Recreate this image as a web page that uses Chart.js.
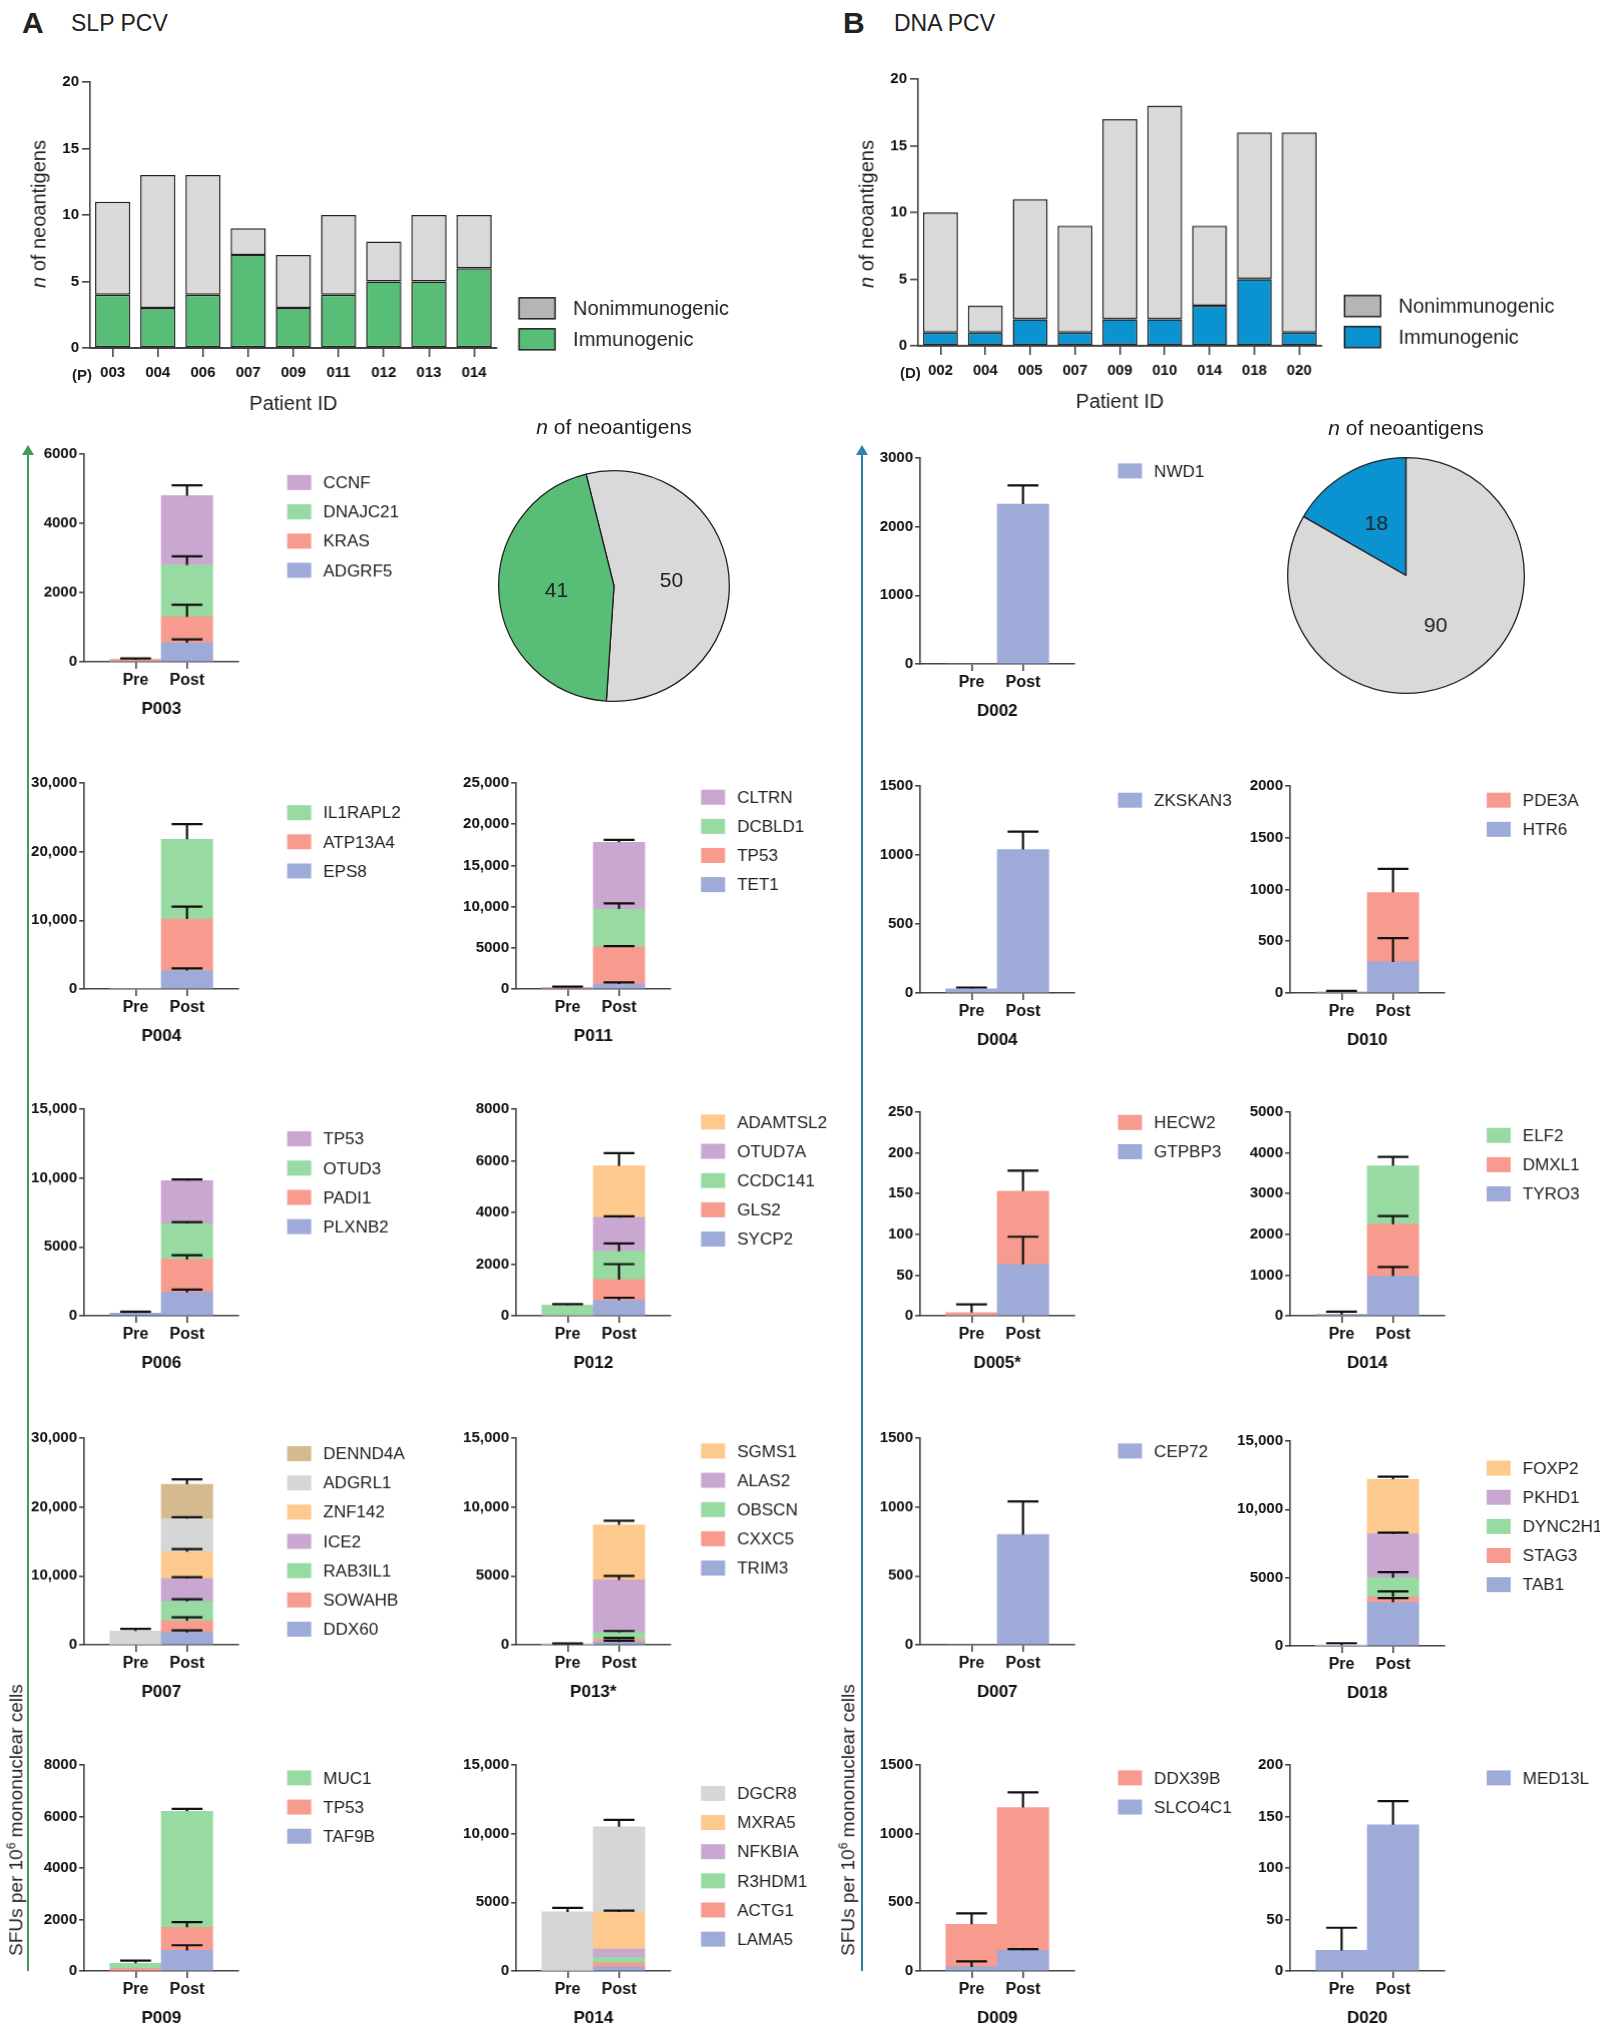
<!DOCTYPE html>
<html><head><meta charset="utf-8">
<script src="https://cdn.jsdelivr.net/npm/chart.js@4"></script>
<style>
body{margin:0;width:1600px;height:2023px;background:#fff;position:relative;overflow:hidden;font-family:"Liberation Sans",Arial,sans-serif;color:#222}
canvas{position:absolute}
.t{position:absolute;white-space:nowrap}
.rot{transform:translate(-50%,-50%) rotate(-90deg)}
.ctr{transform:translate(-50%,-50%)}
</style></head><body>
<script>
// ---- data ----
const SLP_IDS = ['003','004','006','007','009','011','012','013','014'];
const SLP_IMMUNO = [4,3,4,7,3,4,5,5,6];
const SLP_NONIMMUNO = [7,10,9,2,4,6,3,5,4];
const DNA_IDS = ['002','004','005','007','009','010','014','018','020'];
const DNA_IMMUNO = [1,1,2,1,2,2,3,5,1];
const DNA_NONIMMUNO = [9,2,9,8,15,16,6,11,15];
const SLP_PIE = [50,41];
const DNA_PIE = [18,90];
const PHASES = ['', 'Pre', 'Post', ''];

// gene lists bottom -> top; values and SD for Pre and Post
const P003_GENES = ['ADGRF5','KRAS','DNAJC21','CCNF'];
const P003_PRE = [0,60,0,0], P003_PRE_SD = [0,40,0,0];
const P003_POST = [550,750,1500,2000], P003_POST_SD = [100,350,250,300];
const P004_GENES = ['EPS8','ATP13A4','IL1RAPL2'];
const P004_PRE = [0,0,0], P004_PRE_SD = [0,0,0];
const P004_POST = [2700,7500,11600], P004_POST_SD = [300,1800,2200];
const P011_GENES = ['TET1','TP53','DCBLD1','CLTRN'];
const P011_PRE = [0,150,0,0], P011_PRE_SD = [0,150,0,0];
const P011_POST = [600,4500,4600,8100], P011_POST_SD = [200,100,700,300];
const P006_GENES = ['PLXNB2','PADI1','OTUD3','TP53'];
const P006_PRE = [200,0,0,0], P006_PRE_SD = [100,0,0,0];
const P006_POST = [1700,2400,2600,3100], P006_POST_SD = [200,300,100,100];
const P012_GENES = ['SYCP2','GLS2','CCDC141','OTUD7A','ADAMTSL2'];
const P012_PRE = [0,0,400,0,0], P012_PRE_SD = [0,0,50,0,0];
const P012_POST = [600,800,1100,1300,2000], P012_POST_SD = [100,600,300,50,500];
const P007_GENES = ['DDX60','SOWAHB','RAB3IL1','ICE2','ZNF142','ADGRL1','DENND4A'];
const P007_PRE = [0,0,0,0,0,2000,0], P007_PRE_SD = [0,0,0,0,0,300,0];
const P007_POST = [1800,1700,2800,3300,3900,4800,5000], P007_POST_SD = [300,500,300,200,400,200,700];
const P013_GENES = ['TRIM3','CXXC5','OBSCN','ALAS2','SGMS1'];
const P013_PRE = [50,0,0,0,0], P013_PRE_SD = [50,0,0,0,0];
const P013_POST = [200,200,500,3800,4000], P013_POST_SD = [100,100,100,300,300];
const P009_GENES = ['TAF9B','TP53','MUC1'];
const P009_PRE = [0,100,200], P009_PRE_SD = [0,0,100];
const P009_POST = [800,900,4500], P009_POST_SD = [200,200,100];
const P014_GENES = ['LAMA5','ACTG1','R3HDM1','NFKBIA','MXRA5','DGCR8'];
const P014_PRE = [0,0,0,0,0,4300], P014_PRE_SD = [0,0,0,0,0,300];
const P014_POST = [300,300,400,600,2700,6200], P014_POST_SD = [0,0,0,0,100,500];

const D002_GENES = ['NWD1'];
const D002_PRE = [0], D002_PRE_SD = [0];
const D002_POST = [2330], D002_POST_SD = [270];
const D004_GENES = ['ZKSKAN3'];
const D004_PRE = [30], D004_PRE_SD = [10];
const D004_POST = [1040], D004_POST_SD = [130];
const D010_GENES = ['HTR6','PDE3A'];
const D010_PRE = [10,0], D010_PRE_SD = [10,0];
const D010_POST = [300,670], D010_POST_SD = [230,230];
const D005_GENES = ['GTPBP3','HECW2'];
const D005_PRE = [0,4], D005_PRE_SD = [0,10];
const D005_POST = [63,90], D005_POST_SD = [34,25];
const D014_GENES = ['TYRO3','DMXL1','ELF2'];
const D014_PRE = [30,0,0], D014_PRE_SD = [70,0,0];
const D014_POST = [980,1270,1430], D014_POST_SD = [220,200,220];
const D007_GENES = ['CEP72'];
const D007_PRE = [0], D007_PRE_SD = [0];
const D007_POST = [800], D007_POST_SD = [240];
const D018_GENES = ['TAB1','STAG3','DYNC2H1','PKHD1','FOXP2'];
const D018_PRE = [50,0,0,0,0], D018_PRE_SD = [150,0,0,0,0];
const D018_POST = [3200,400,1400,3200,4000], D018_POST_SD = [300,400,400,100,200];
const D009_GENES = ['SLCO4C1','DDX39B'];
const D009_PRE = [30,310], D009_PRE_SD = [40,80];
const D009_POST = [150,1040], D009_POST_SD = [10,110];
const D020_GENES = ['MED13L'];
const D020_PRE = [20], D020_PRE_SD = [22];
const D020_POST = [142], D020_POST_SD = [23];

// ---- style ----
const K = 1.29;
const FONT = '"Liberation Sans", Arial, sans-serif';
const PALETTE = ['#9eaad8','#f79b8f','#97dba2','#c9a7d1','#fdc98c','#d6d6d6','#d5b98f'];
const GREEN = '#58bd76', BLUE = '#0a93d0', GREY = '#d9d9d9';
const AXIS = '#444';

function addText(html, x, y, size, cls, extra) {
  const d = document.createElement('div');
  d.className = 't ' + (cls || '');
  d.style.left = x + 'px'; d.style.top = y + 'px';
  d.style.fontSize = size + 'px';
  if (extra) Object.assign(d.style, extra);
  d.innerHTML = html;
  document.body.appendChild(d);
}
function addCanvas(left, top, w, h) {
  const c = document.createElement('canvas');
  c.style.left = left + 'px'; c.style.top = top + 'px';
  c.style.width = w + 'px'; c.style.height = h + 'px';
  c.width = w; c.height = h;
  document.body.appendChild(c);
  return c;
}

const errorBars = {
  id: 'errorBars',
  afterDatasetsDraw(chart) {
    const ctx = chart.ctx, ys = chart.scales.y;
    chart.data.datasets.forEach((ds, i) => {
      if (!ds.sd) return;
      chart.getDatasetMeta(i).data.forEach((el, j) => {
        const sd = ds.sd[j];
        if (!sd || !ds.data[j]) return;
        const top = ys.getValueForPixel(el.y);
        const tip = ys.getPixelForValue(top + sd);
        const half = el.width * 0.3;
        ctx.save();
        ctx.strokeStyle = '#111'; ctx.lineWidth = 2.2;
        ctx.beginPath();
        ctx.moveTo(el.x, el.y); ctx.lineTo(el.x, tip);
        ctx.moveTo(el.x - half, tip); ctx.lineTo(el.x + half, tip);
        ctx.stroke();
        ctx.restore();
      });
    });
  }
};

const sideLegend = {
  id: 'sideLegend',
  afterDraw(chart, args, opts) {
    if (!opts.items) return;
    const ctx = chart.ctx;
    ctx.save();
    ctx.font = opts.size + 'px ' + FONT;
    ctx.textBaseline = 'middle';
    opts.items.forEach((it, k) => {
      const y = opts.y + k * opts.step;
      ctx.fillStyle = it.color;
      ctx.fillRect(opts.x, y - opts.bh / 2, opts.bw, opts.bh);
      if (opts.border) { ctx.strokeStyle = '#222'; ctx.lineWidth = 1.5; ctx.strokeRect(opts.x, y - opts.bh / 2, opts.bw, opts.bh); }
      ctx.fillStyle = '#222';
      ctx.fillText(it.label, opts.x + opts.bw + opts.gap, y + 1);
    });
    ctx.restore();
  }
};

function fmt(v) { return v >= 10000 ? v.toLocaleString('en-US') : String(v); }

// ---- small Pre/Post stacked charts ----
function smallChart(s) {
  const yW = 66, padT = 12, xH = 62, legW = 240;
  const ax = s.ax * K, top = s.top * K, zero = s.zero * K;
  const plotW = 120 * K, plotH = zero - top;
  const left = ax - yW, ctop = top - padT;
  const W = yW + plotW + legW, H = padT + plotH + xH;
  const c = addCanvas(left, ctop, W, H);
  const datasets = s.genes.map((g, i) => ({
    label: g,
    data: [null, s.pre[i], s.post[i], null],
    sd: [0, s.preSd[i], s.postSd[i], 0],
    backgroundColor: PALETTE[i],
    barPercentage: 1, categoryPercentage: 1, borderWidth: 0
  }));
  const items = s.genes.map((g, i) => ({label: g, color: PALETTE[i]})).reverse();
  new Chart(c, {
    type: 'bar',
    data: {labels: PHASES, datasets},
    plugins: [errorBars, sideLegend],
    options: {
      animation: false, responsive: false,
      layout: {padding: {top: padT, right: legW, left: 0, bottom: 0}},
      plugins: {
        legend: {display: false}, tooltip: {enabled: false},
        sideLegend: {items, x: yW + s.legDx * K, y: padT + s.legDy * K, step: 22.6 * K,
                     bw: 24, bh: 15, gap: 12, size: 17}
      },
      scales: {
        x: {
          stacked: true, offset: false,
          afterFit: sc => { sc.height = xH; },
          ticks: {color: '#111', padding: 2, autoSkip: false, maxRotation: 0,
                  font: {family: FONT, size: 16, weight: 'bold'}},
          grid: {drawOnChartArea: false, offset: false, tickLength: 7, lineWidth: 1.6,
                 color: c => (c.tick && c.tick.label) ? AXIS : 'rgba(0,0,0,0)'},
          border: {color: AXIS, width: 1.6},
          title: {display: true, text: s.title, color: '#111', padding: {top: 2},
                  font: {family: FONT, size: 17, weight: 'bold'}}
        },
        y: {
          stacked: true, min: 0, max: s.max,
          afterFit: sc => { sc.width = yW; },
          ticks: {stepSize: s.step, callback: fmt, color: '#111', padding: 2,
                  font: {family: FONT, size: 15, weight: 'bold'}},
          grid: {drawOnChartArea: false, tickLength: 5, color: AXIS, lineWidth: 1.6},
          border: {color: AXIS, width: 1.6}
        }
      }
    }
  });
}

const SMALL = [
  {title:'P003', genes:P003_GENES, pre:P003_PRE, preSd:P003_PRE_SD, post:P003_POST, postSd:P003_POST_SD, ax:65, top:352, zero:513, max:6000, step:2000, legDx:157, legDy:22},
  {title:'P004', genes:P004_GENES, pre:P004_PRE, preSd:P004_PRE_SD, post:P004_POST, postSd:P004_POST_SD, ax:65, top:607, zero:767, max:30000, step:10000, legDx:157, legDy:23},
  {title:'P011', genes:P011_GENES, pre:P011_PRE, preSd:P011_PRE_SD, post:P011_POST, postSd:P011_POST_SD, ax:400, top:607, zero:767, max:25000, step:5000, legDx:143, legDy:11},
  {title:'P006', genes:P006_GENES, pre:P006_PRE, preSd:P006_PRE_SD, post:P006_POST, postSd:P006_POST_SD, ax:65, top:860, zero:1020, max:15000, step:5000, legDx:157, legDy:23},
  {title:'P012', genes:P012_GENES, pre:P012_PRE, preSd:P012_PRE_SD, post:P012_POST, postSd:P012_POST_SD, ax:400, top:860, zero:1020, max:8000, step:2000, legDx:143, legDy:10},
  {title:'P007', genes:P007_GENES, pre:P007_PRE, preSd:P007_PRE_SD, post:P007_POST, postSd:P007_POST_SD, ax:65, top:1115, zero:1275, max:30000, step:10000, legDx:157, legDy:12},
  {title:'P013*', genes:P013_GENES, pre:P013_PRE, preSd:P013_PRE_SD, post:P013_POST, postSd:P013_POST_SD, ax:400, top:1115, zero:1275, max:15000, step:5000, legDx:143, legDy:10},
  {title:'P009', genes:P009_GENES, pre:P009_PRE, preSd:P009_PRE_SD, post:P009_POST, postSd:P009_POST_SD, ax:65, top:1368, zero:1528, max:8000, step:2000, legDx:157, legDy:10},
  {title:'P014', genes:P014_GENES, pre:P014_PRE, preSd:P014_PRE_SD, post:P014_POST, postSd:P014_POST_SD, ax:400, top:1368, zero:1528, max:15000, step:5000, legDx:143, legDy:22},
  {title:'D002', genes:D002_GENES, pre:D002_PRE, preSd:D002_PRE_SD, post:D002_POST, postSd:D002_POST_SD, ax:713, top:355, zero:515, max:3000, step:1000, legDx:153, legDy:10},
  {title:'D004', genes:D004_GENES, pre:D004_PRE, preSd:D004_PRE_SD, post:D004_POST, postSd:D004_POST_SD, ax:713, top:609, zero:770, max:1500, step:500, legDx:153, legDy:11},
  {title:'D010', genes:D010_GENES, pre:D010_PRE, preSd:D010_PRE_SD, post:D010_POST, postSd:D010_POST_SD, ax:1000, top:609, zero:770, max:2000, step:500, legDx:152, legDy:11},
  {title:'D005*', genes:D005_GENES, pre:D005_PRE, preSd:D005_PRE_SD, post:D005_POST, postSd:D005_POST_SD, ax:713, top:862, zero:1020, max:250, step:50, legDx:153, legDy:8},
  {title:'D014', genes:D014_GENES, pre:D014_PRE, preSd:D014_PRE_SD, post:D014_POST, postSd:D014_POST_SD, ax:1000, top:862, zero:1020, max:5000, step:1000, legDx:152, legDy:18},
  {title:'D007', genes:D007_GENES, pre:D007_PRE, preSd:D007_PRE_SD, post:D007_POST, postSd:D007_POST_SD, ax:713, top:1115, zero:1275, max:1500, step:500, legDx:153, legDy:10},
  {title:'D018', genes:D018_GENES, pre:D018_PRE, preSd:D018_PRE_SD, post:D018_POST, postSd:D018_POST_SD, ax:1000, top:1117, zero:1276, max:15000, step:5000, legDx:152, legDy:21},
  {title:'D009', genes:D009_GENES, pre:D009_PRE, preSd:D009_PRE_SD, post:D009_POST, postSd:D009_POST_SD, ax:713, top:1368, zero:1528, max:1500, step:500, legDx:153, legDy:10},
  {title:'D020', genes:D020_GENES, pre:D020_PRE, preSd:D020_PRE_SD, post:D020_POST, postSd:D020_POST_SD, ax:1000, top:1368, zero:1528, max:200, step:50, legDx:152, legDy:10}
];
SMALL.forEach(smallChart);

// ---- top count charts ----
function countChart(ids, immuno, non, color, axD, topD, zeroD, rightD) {
  const yW = 50, padT = 10, xH = 72, legW = 280;
  const ax = axD * K, top = topD * K, zero = zeroD * K, right = rightD * K;
  const left = ax - yW;
  const W = yW + (right - ax) + legW, H = padT + (zero - top) + xH;
  const c = addCanvas(left, top - padT, W, H);
  new Chart(c, {
    type: 'bar',
    data: {labels: ids, datasets: [
      {label: 'Immunogenic', data: immuno, backgroundColor: color, borderColor: '#222', borderWidth: 1.5, borderSkipped: false, barPercentage: 0.78, categoryPercentage: 1},
      {label: 'Nonimmunogenic', data: non, backgroundColor: GREY, borderColor: '#222', borderWidth: 1.5, borderSkipped: false, barPercentage: 0.78, categoryPercentage: 1}
    ]},
    plugins: [sideLegend],
    options: {
      animation: false, responsive: false,
      layout: {padding: {top: padT, right: legW, left: 0, bottom: 0}},
      plugins: {
        legend: {display: false}, tooltip: {enabled: false},
        sideLegend: {items: [{label: 'Nonimmunogenic', color: '#b5b5b5'}, {label: 'Immunogenic', color}],
                     x: yW + (right - ax) + 22, y: padT + (zero - top) - 40, step: 31, bw: 36, bh: 21, gap: 18, size: 20, border: true}
      },
      scales: {
        x: {stacked: true,
            afterFit: sc => { sc.height = xH; },
            ticks: {color: '#111', padding: 7, font: {family: FONT, size: 15, weight: 'bold'}},
            grid: {drawOnChartArea: false, tickLength: 9, color: AXIS, lineWidth: 1.6, offset: false},
            border: {color: AXIS, width: 2},
            title: {display: true, text: 'Patient ID', color: '#222', padding: {top: 6}, font: {family: FONT, size: 20}}},
        y: {stacked: true, min: 0, max: 20,
            afterFit: sc => { sc.width = yW; },
            ticks: {stepSize: 5, color: '#111', padding: 3, font: {family: FONT, size: 15, weight: 'bold'}},
            grid: {drawOnChartArea: false, tickLength: 8, color: AXIS, lineWidth: 1.6},
            border: {color: AXIS, width: 1.6}}
      }
    }
  });
}
countChart(SLP_IDS, SLP_IMMUNO, SLP_NONIMMUNO, GREEN, 70, 62, 270, 385);
countChart(DNA_IDS, DNA_IMMUNO, DNA_NONIMMUNO, BLUE, 712, 60, 268, 1025);

// ---- pies ----
const pieLabels = {
  id: 'pieLabels',
  afterDatasetsDraw(chart) {
    const ctx = chart.ctx;
    ctx.save();
    ctx.font = '21px ' + FONT; ctx.fillStyle = '#222';
    ctx.textAlign = 'center'; ctx.textBaseline = 'middle';
    chart.getDatasetMeta(0).data.forEach((arc, i) => {
      const p = arc.tooltipPosition();
      ctx.fillText(String(chart.data.datasets[0].data[i]), p.x, p.y);
    });
    ctx.restore();
  }
};
function pie(values, colors, rotation, cxD, cyD, rD) {
  const r = rD * K, pad = 4;
  const c = addCanvas(cxD * K - r - pad, cyD * K - r - pad, 2 * (r + pad), 2 * (r + pad));
  new Chart(c, {
    type: 'pie',
    data: {datasets: [{data: values, backgroundColor: colors, borderColor: '#222', borderWidth: 1.3}]},
    plugins: [pieLabels],
    options: {animation: false, responsive: false, rotation,
              layout: {padding: pad},
              plugins: {legend: {display: false}, tooltip: {enabled: false}}}
  });
}
pie(SLP_PIE, [GREY, GREEN], -14, 476, 454, 90);
pie(DNA_PIE, [BLUE, GREY], -60, 1090, 446, 92);

// ---- texts ----
addText('A', 22, 6, 30, '', {fontWeight: 'bold'});
addText('SLP PCV', 71, 10, 23);
addText('B', 843, 6, 30, '', {fontWeight: 'bold'});
addText('DNA PCV', 894, 10, 23);
addText('(P)', 72, 366, 15, '', {fontWeight: 'bold'});
addText('(D)', 900, 364, 15, '', {fontWeight: 'bold'});
addText('<i>n</i> of neoantigens', 39, 214, 20, 'rot');
addText('<i>n</i> of neoantigens', 867, 214, 20, 'rot');
addText('<i>n</i> of neoantigens', 614, 427, 21, 'ctr');
addText('<i>n</i> of neoantigens', 1406, 428, 21, 'ctr');
addText('SFUs per 10<sup style="font-size:12px">6</sup> mononuclear cells', 16, 1820, 19, 'rot');
addText('SFUs per 10<sup style="font-size:12px">6</sup> mononuclear cells', 848, 1820, 19, 'rot');

// arrows
function arrow(x, color) {
  const top = 345 * K, bot = 1528 * K;
  const l = document.createElement('div');
  Object.assign(l.style, {position: 'absolute', left: (x - 1) + 'px', top: (top + 6) + 'px', width: '2px', height: (bot - top - 6) + 'px', background: color});
  document.body.appendChild(l);
  const h = document.createElement('div');
  Object.assign(h.style, {position: 'absolute', left: (x - 6) + 'px', top: top + 'px', width: 0, height: 0,
    borderLeft: '6px solid transparent', borderRight: '6px solid transparent', borderBottom: '10px solid ' + color});
  document.body.appendChild(h);
}
arrow(28, '#3f9a5c');
arrow(862, '#2f7fb0');
</script>
</body></html>
